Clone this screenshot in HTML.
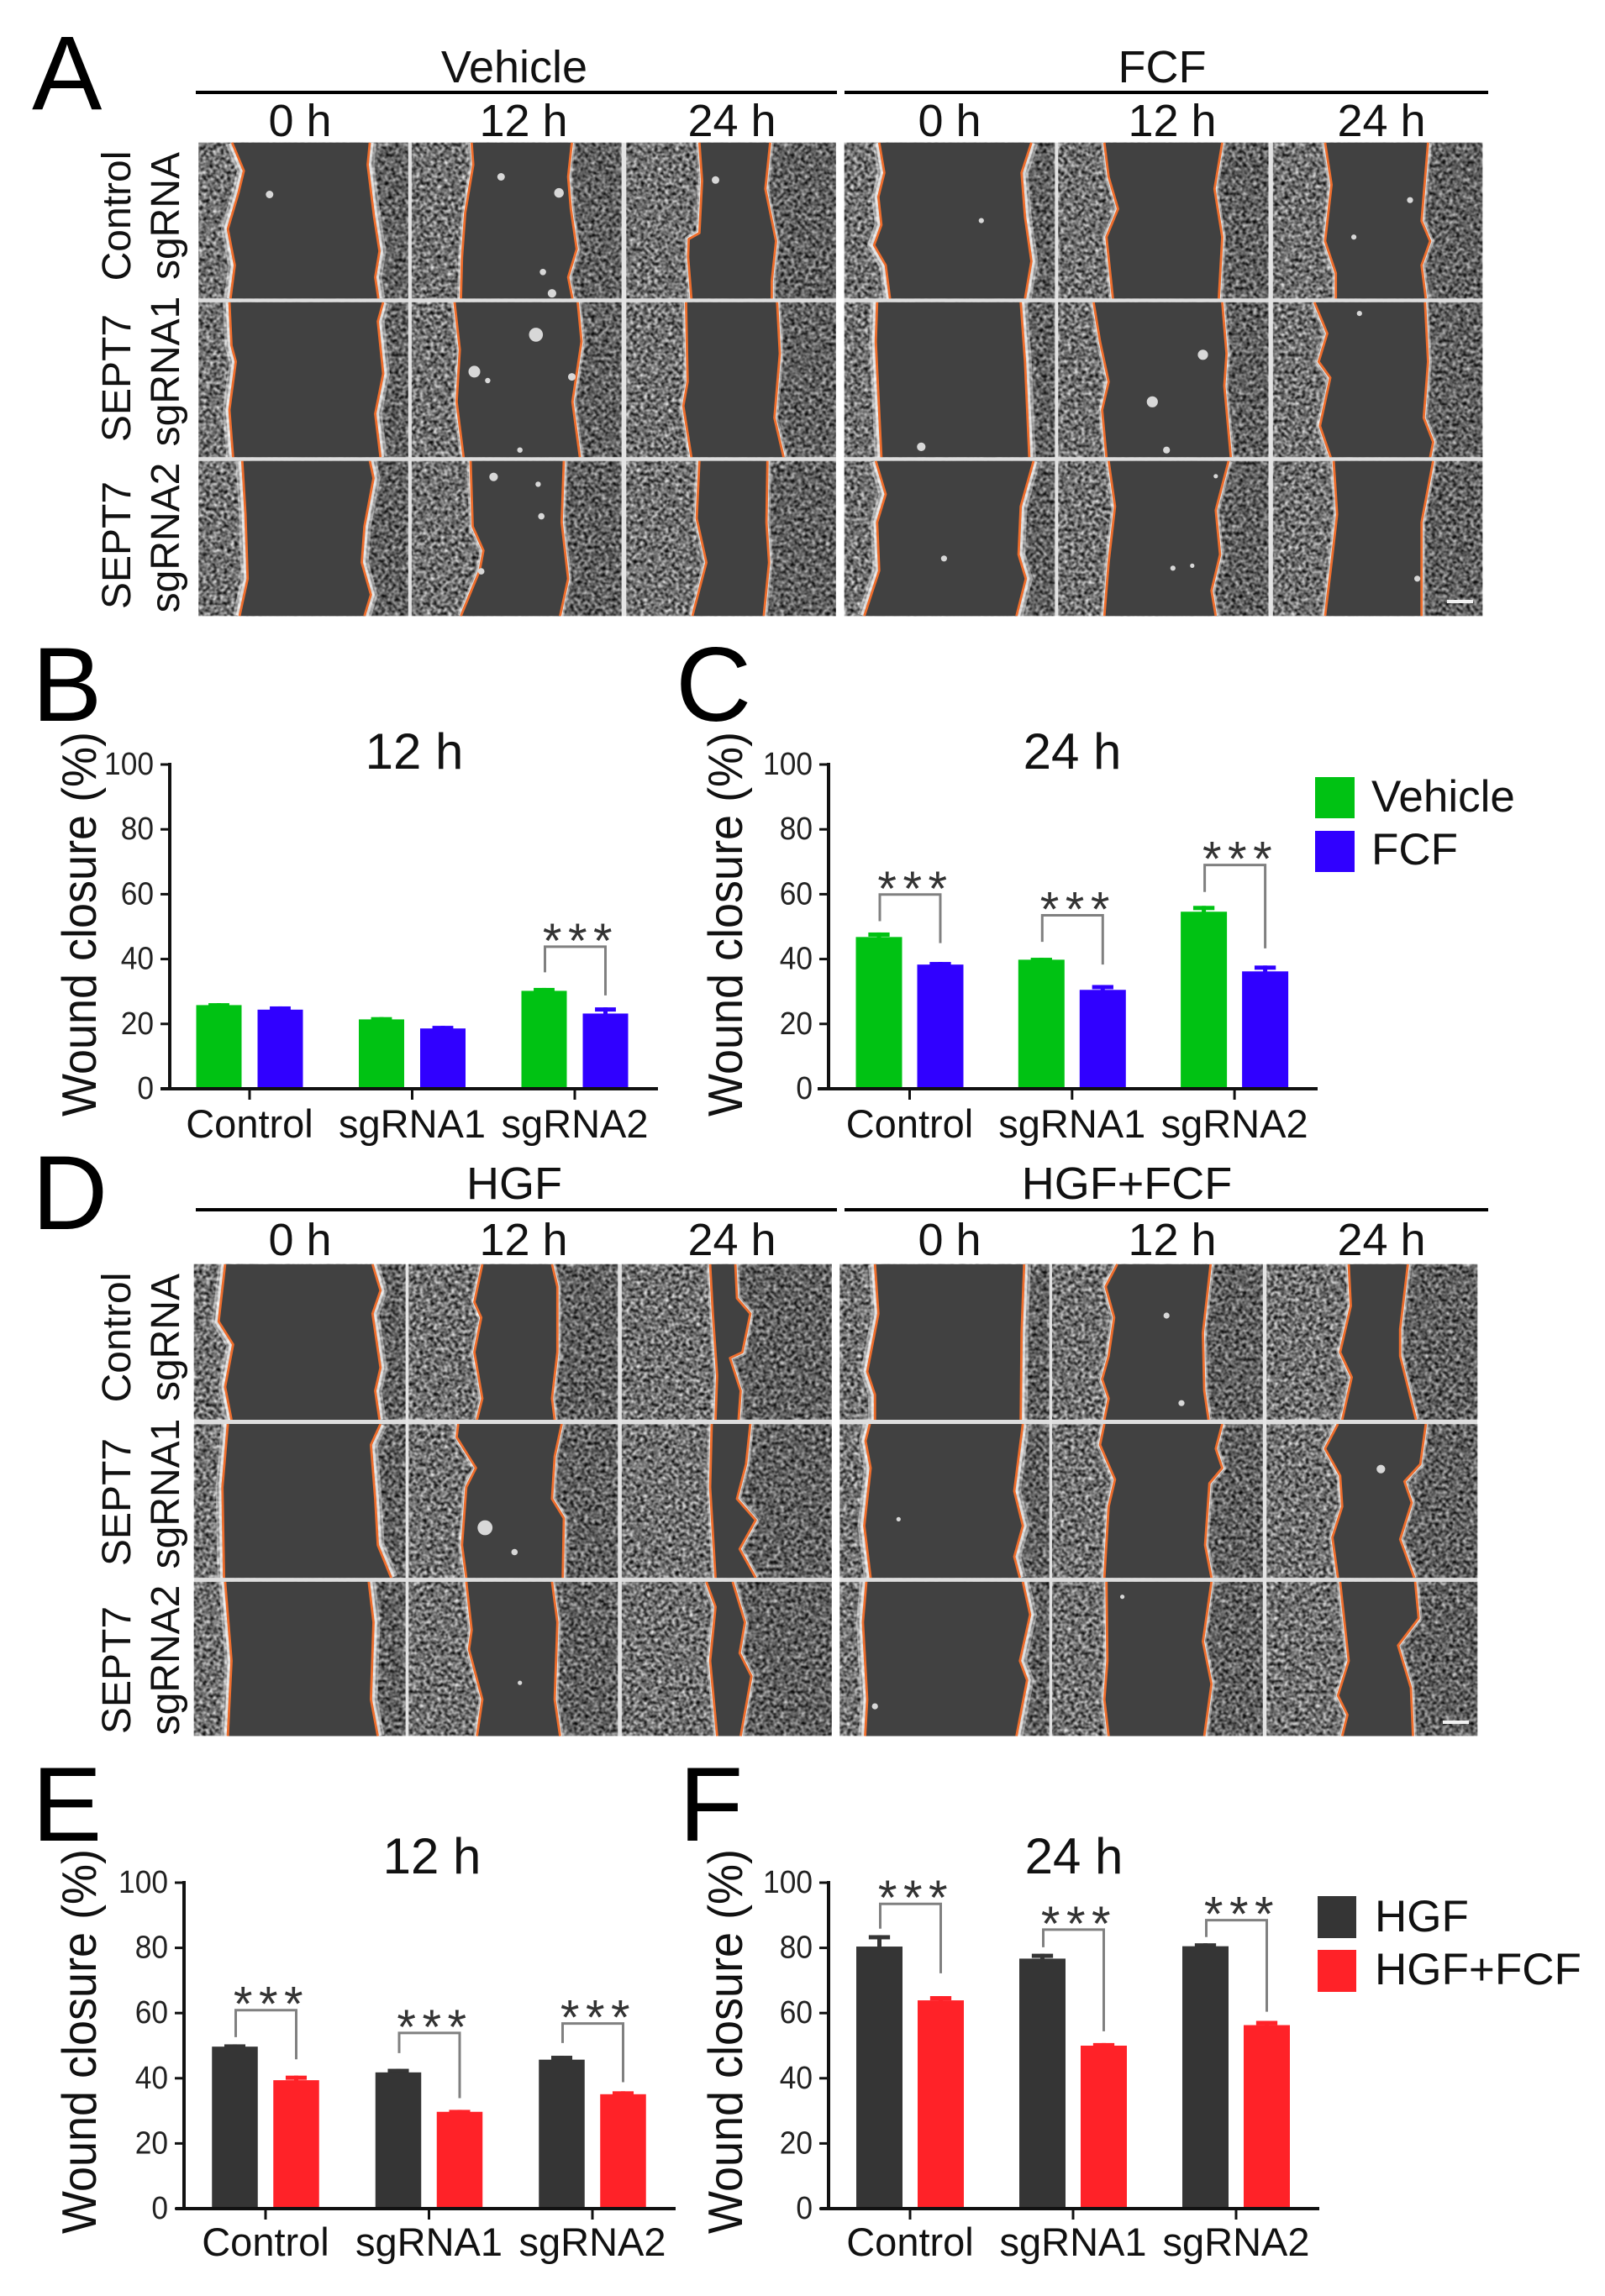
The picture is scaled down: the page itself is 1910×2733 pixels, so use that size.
<!DOCTYPE html>
<html lang="en">
<head>
<meta charset="utf-8">
<title>Wound closure figure</title>
<style>
html,body{margin:0;padding:0;background:#fff;}
body{width:1910px;height:2733px;overflow:hidden;}
svg{display:block;position:absolute;left:0;top:0;}
text{font-family:"Liberation Sans",sans-serif;fill:#111;}
.letter{font-size:125px;fill:#000;}
.hdr{font-size:54px;text-anchor:middle;}
.row{font-size:48px;text-anchor:middle;}
.leg{font-size:53px;}
</style>
</head>
<body>
<svg id="fig" xmlns="http://www.w3.org/2000/svg" width="1910" height="2733" viewBox="0 0 1910 2733">
<defs>
<filter id="cells" x="0" y="0" width="100%" height="100%" color-interpolation-filters="sRGB">
<feTurbulence type="fractalNoise" baseFrequency=".24" numOctaves="3" seed="7"/>
<feColorMatrix type="matrix" values="1.6 0 0 0 -.36  1.6 0 0 0 -.36  1.6 0 0 0 -.36  0 0 0 0 1"/>
<feGaussianBlur stdDeviation=".9"/>
</filter>
</defs>
<rect width="1910" height="2733" fill="#fff"/>

<text class="letter" x="38" y="130">A</text>
<text class="letter" x="38" y="858">B</text>
<text class="letter" x="804" y="858">C</text>
<text class="letter" x="38" y="1463">D</text>
<text class="letter" x="38" y="2191">E</text>
<text class="letter" x="808" y="2191">F</text>

<text class="hdr" x="612" y="98">Vehicle</text>
<text class="hdr" x="1383" y="98">FCF</text>
<rect x="233" y="108" width="763" height="4" fill="#000"/>
<rect x="1005" y="108" width="766" height="4" fill="#000"/>
<text class="hdr" x="357" y="162">0 h</text>
<text class="hdr" x="623" y="162">12 h</text>
<text class="hdr" x="871" y="162">24 h</text>
<text class="hdr" x="1130" y="162">0 h</text>
<text class="hdr" x="1395" y="162">12 h</text>
<text class="hdr" x="1644" y="162">24 h</text>

<text class="row" transform="translate(155 257) rotate(-90)">Control</text>
<text class="row" transform="translate(213 257) rotate(-90)">sgRNA</text>
<text class="row" transform="translate(155 450) rotate(-90)">SEPT7</text>
<text class="row" transform="translate(213 442) rotate(-90)">sgRNA1</text>
<text class="row" transform="translate(155 649) rotate(-90)">SEPT7</text>
<text class="row" transform="translate(213 640) rotate(-90)">sgRNA2</text>

<text class="hdr" x="612" y="1427">HGF</text>
<text class="hdr" x="1341" y="1427">HGF+FCF</text>
<rect x="233" y="1438" width="763" height="4" fill="#000"/>
<rect x="1005" y="1438" width="766" height="4" fill="#000"/>
<text class="hdr" x="357" y="1494">0 h</text>
<text class="hdr" x="623" y="1494">12 h</text>
<text class="hdr" x="871" y="1494">24 h</text>
<text class="hdr" x="1130" y="1494">0 h</text>
<text class="hdr" x="1395" y="1494">12 h</text>
<text class="hdr" x="1644" y="1494">24 h</text>

<text class="row" transform="translate(155 1592) rotate(-90)">Control</text>
<text class="row" transform="translate(213 1592) rotate(-90)">sgRNA</text>
<text class="row" transform="translate(155 1788) rotate(-90)">SEPT7</text>
<text class="row" transform="translate(213 1778) rotate(-90)">sgRNA1</text>
<text class="row" transform="translate(155 1988) rotate(-90)">SEPT7</text>
<text class="row" transform="translate(213 1976) rotate(-90)">sgRNA2</text>

<g id="micro"></g>
<g id="charts"></g>

<rect x="1565" y="925" width="47" height="49" fill="#00c213"/>
<text class="leg" x="1632" y="966">Vehicle</text>
<rect x="1565" y="989" width="47" height="49" fill="#3000ff"/>
<text class="leg" x="1632" y="1029">FCF</text>
<rect x="1568" y="2257" width="46" height="50" fill="#353535"/>
<text class="leg" x="1636" y="2299">HGF</text>
<rect x="1568" y="2321" width="46" height="50" fill="#ff2228"/>
<text class="leg" x="1636" y="2362">HGF+FCF</text>
</svg>

<script>
// ---- chart data ----
const categories = ['Control', 'sgRNA1', 'sgRNA2'];
const yTicks = [0, 20, 40, 60, 80, 100];

const b12hVehicle = [25.8, 21.4, 30.2];
const b12hVehicleErr = [0.6, 0.7, 0.9];
const b12hFcf = [24.4, 18.6, 23.2];
const b12hFcfErr = [1.0, 0.8, 1.9];
const b12hBracketTop = [null, null, 43.8];
const b12hBracketLeft = [null, null, 35.9];
const b12hBracketRight = [null, null, 28.8];

const c24hVehicle = [46.8, 39.8, 54.6];
const c24hVehicleErr = [1.4, 0.6, 1.8];
const c24hFcf = [38.3, 30.5, 36.2];
const c24hFcfErr = [0.8, 1.5, 1.8];
const c24hBracketTop = [59.9, 53.5, 69.0];
const c24hBracketLeft = [51.7, 45.3, 60.7];
const c24hBracketRight = [44.9, 38.3, 43.3];

const e12hHgf = [49.7, 41.8, 45.7];
const e12hHgfErr = [0.7, 1.1, 1.2];
const e12hCombo = [39.4, 29.7, 35.1];
const e12hComboErr = [1.4, 0.6, 0.9];
const e12hBracketTop = [60.9, 53.9, 56.8];
const e12hBracketLeft = [52.6, 47.7, 50.8];
const e12hBracketRight = [45.8, 33.9, 38.8];

const f24hHgf = [80.4, 76.7, 80.5];
const f24hHgfErr = [3.5, 1.5, 0.9];
const f24hCombo = [63.9, 50.0, 56.3];
const f24hComboErr = [1.3, 0.8, 1.3];
const f24hBracketTop = [93.5, 85.6, 88.5];
const f24hBracketLeft = [85.9, 80.2, 83.3];
const f24hBracketRight = [72.2, 54.4, 60.4];

// ---- chart layouts ----
const chartLayouts = [
 {id:'b', title:'12 h', titleX:493, titleY:915, axisX:202, axisL:191, axisR:783, y100:910, y0:1296, catY:1354, tick0:297, tickStep:193.5, off:36.5, barW:54, yTitleX:114, yTitleY:1100,
  s1:b12hVehicle, e1:b12hVehicleErr, s2:b12hFcf, e2:b12hFcfErr, bt:b12hBracketTop, bl:b12hBracketLeft, br:b12hBracketRight, c1:'#00c213', c2:'#3000ff'},
 {id:'c', title:'24 h', titleX:1276, titleY:915, axisX:986, axisL:973, axisR:1568, y100:910, y0:1296, catY:1354, tick0:1082.5, tickStep:193.3, off:36.5, barW:55, yTitleX:883, yTitleY:1100,
  s1:c24hVehicle, e1:c24hVehicleErr, s2:c24hFcf, e2:c24hFcfErr, bt:c24hBracketTop, bl:c24hBracketLeft, br:c24hBracketRight, c1:'#00c213', c2:'#3000ff'},
 {id:'e', title:'12 h', titleX:514, titleY:2230, axisX:219, axisL:209, axisR:804, y100:2241, y0:2629, catY:2685, tick0:316, tickStep:194.5, off:36.5, barW:54.5, yTitleX:114, yTitleY:2430,
  s1:e12hHgf, e1:e12hHgfErr, s2:e12hCombo, e2:e12hComboErr, bt:e12hBracketTop, bl:e12hBracketLeft, br:e12hBracketRight, c1:'#353535', c2:'#ff2228'},
 {id:'f', title:'24 h', titleX:1278, titleY:2230, axisX:986, axisL:976, axisR:1570, y100:2241, y0:2629, catY:2685, tick0:1083, tickStep:194, off:36.5, barW:55, yTitleX:883, yTitleY:2430,
  s1:f24hHgf, e1:f24hHgfErr, s2:f24hCombo, e2:f24hComboErr, bt:f24hBracketTop, bl:f24hBracketLeft, br:f24hBracketRight, c1:'#353535', c2:'#ff2228'}
];

// ---- micrographs (traced wound edges, crop-space coordinates) ----
const micrographs = [
 {name:'vehicle', ox:0, oy:0, sx:.6378, sy:.4783,
  cols:[[370,762],[768,1160],[1168,1560]], rows:[[355,743],[752,1138],[1147,1533]],
  edges:[
   [[[433,355],[455,425],[445,480],[425,570],[438,660],[430,743]],[[690,355],[686,410],[698,540],[708,625],[700,690],[706,743]]],
   [[[880,355],[883,410],[868,530],[862,640],[860,743]],[[1067,355],[1060,440],[1065,520],[1076,620],[1060,690],[1068,743]]],
   [[[1305,355],[1310,450],[1305,580],[1285,595],[1284,640],[1290,743]],[[1437,355],[1428,470],[1448,600],[1440,700],[1440,743]]],
   [[[428,752],[432,860],[440,900],[428,1020],[435,1138]],[[715,752],[705,800],[715,930],[700,1030],[710,1138]]],
   [[[848,752],[858,870],[852,1000],[865,1138]],[[1078,752],[1085,850],[1068,1000],[1082,1138]]],
   [[[1280,752],[1283,950],[1275,1010],[1290,1138]],[[1450,752],[1455,880],[1445,1040],[1462,1138]]],
   [[[452,1147],[458,1280],[462,1440],[447,1533]],[[690,1147],[697,1190],[680,1310],[675,1400],[692,1480],[680,1533]]],
   [[[878,1147],[882,1310],[902,1370],[895,1420],[860,1533]],[[1052,1147],[1048,1300],[1060,1440],[1045,1533]]],
   [[[1305,1147],[1300,1290],[1318,1400],[1292,1533]],[[1432,1147],[1430,1300],[1435,1400],[1425,1533]]]
  ],
  specks:[[503,484,7],[935,440,7],[1043,480,9],[1013,677,6],[1030,730,8],[1335,448,7],[1000,833,13],[885,925,11],[910,947,5],[1067,938,7],[970,1120,5],[921,1187,8],[1004,1205,5],[1010,1285,6],[898,1422,6]]},
 {name:'fcf', ox:980, oy:0, sx:.5102, sy:.4783,
  cols:[[48,540],[547,1038],[1048,1537]], rows:[[355,743],[752,1138],[1147,1533]],
  edges:[
   [[[130,355],[142,430],[128,490],[135,560],[118,610],[145,660],[155,743]],[[485,355],[462,430],[470,540],[485,650],[470,743]]],
   [[[655,355],[665,440],[687,520],[660,590],[675,743]],[[930,355],[912,470],[930,590],[922,743]]],
   [[[1170,355],[1185,460],[1170,600],[1195,680],[1195,743]],[[1410,355],[1395,550],[1415,600],[1395,660],[1405,743]]],
   [[[125,752],[122,850],[135,1138]],[[460,752],[470,900],[480,1138]]],
   [[[630,752],[645,850],[665,950],[650,1020],[660,1138]],[[930,752],[940,880],[935,960],[950,1138]]],
   [[[1145,752],[1175,830],[1155,900],[1182,940],[1158,1060],[1183,1138]],[[1403,752],[1410,900],[1400,1040],[1422,1100],[1415,1138]]],
   [[[122,1147],[145,1230],[125,1300],[130,1420],[95,1533]],[[490,1147],[460,1260],[455,1380],[472,1440],[450,1533]]],
   [[[665,1147],[680,1260],[665,1400],[655,1533]],[[945,1147],[915,1270],[925,1380],[905,1470],[915,1533]]],
   [[[1190,1147],[1198,1280],[1185,1400],[1170,1533]],[[1422,1147],[1395,1300],[1395,1533]]]
  ],
  specks:[[368,549,6],[1368,498,7],[1237,590,6],[885,883,12],[767,1000,13],[800,1120,8],[228,1112,10],[1250,780,6],[281,1390,7],[815,1414,6],[860,1408,5],[915,1185,5],[1385,1440,7]]},
 {name:'hgf', ox:0, oy:1380, sx:.6378, sy:.4592,
  cols:[[362,757],[762,1153],[1160,1552]], rows:[[272,675],[686,1085],[1095,1495]],
  edges:[
   [[[420,272],[408,420],[435,480],[420,590],[432,675]],[[695,272],[710,340],[695,400],[710,540],[700,600],[708,675]]],
   [[[900,272],[885,370],[898,410],[885,500],[900,620],[890,675]],[[1030,272],[1040,330],[1040,500],[1030,620],[1035,675]]],
   [[[1325,272],[1330,400],[1338,560],[1335,675]],[[1372,272],[1375,360],[1400,400],[1385,500],[1362,515],[1382,600],[1378,675]]],
   [[[425,686],[415,850],[418,1085]],[[710,686],[692,740],[700,880],[705,1000],[730,1085]]],
   [[[855,686],[852,720],[888,800],[870,850],[862,1000],[870,1085]],[[1048,686],[1035,770],[1030,880],[1052,930],[1050,1085]]],
   [[[1328,686],[1325,850],[1335,1085]],[[1400,686],[1392,790],[1375,880],[1410,935],[1380,1010],[1410,1085]]],
   [[[420,1095],[432,1300],[425,1495]],[[688,1095],[697,1200],[692,1400],[705,1495]]],
   [[[870,1095],[880,1220],[875,1270],[900,1400],[890,1495]],[[1030,1095],[1040,1200],[1035,1400],[1045,1495]]],
   [[[1318,1095],[1335,1160],[1325,1300],[1338,1495]],[[1367,1095],[1390,1200],[1380,1280],[1402,1340],[1382,1495]]]
  ],
  specks:[[905,955,14],[960,1018,6],[970,1357,4]]},
 {name:'hgf-fcf', ox:980, oy:1380, sx:.5102, sy:.4592,
  cols:[[38,527],[533,1025],[1033,1525]], rows:[[272,675],[686,1085],[1095,1495]],
  edges:[
   [[[120,272],[128,400],[102,550],[120,610],[120,675]],[[468,272],[462,450],[460,675]]],
   [[[685,272],[658,330],[678,410],[665,510],[650,570],[665,620],[655,675]],[[903,272],[885,450],[888,600],[898,675]]],
   [[[1225,272],[1230,380],[1205,500],[1232,565],[1210,675]],[[1363,272],[1345,440],[1345,510],[1382,675]]],
   [[[108,686],[98,730],[110,800],[95,950],[110,1085]],[[465,686],[445,860],[465,950],[445,1030],[458,1085]]],
   [[[655,686],[645,740],[680,830],[665,900],[655,1085]],[[930,686],[915,750],[930,800],[900,840],[890,1000],[905,1085]]],
   [[[1200,686],[1170,750],[1205,820],[1210,900],[1187,980],[1200,1085]],[[1405,686],[1392,790],[1355,835],[1372,890],[1345,985],[1378,1085]]],
   [[[100,1095],[92,1200],[102,1400],[97,1495]],[[465,1095],[482,1180],[458,1300],[475,1350],[450,1495]]],
   [[[660,1095],[662,1300],[655,1400],[665,1495]],[[905,1095],[885,1250],[905,1360],[888,1495]]],
   [[[1205,1095],[1225,1300],[1200,1390],[1222,1440],[1210,1495]],[[1380,1095],[1388,1190],[1340,1260],[1370,1370],[1375,1495]]]
  ],
  specks:[[800,405,7],[835,632,7],[175,933,5],[1300,803,10],[697,1134,5],[120,1418,7]]}
];

const NS = 'http://www.w3.org/2000/svg';
function make(parent, tag, attrs, txt) {
  const el = document.createElementNS(NS, tag);
  for (const k in attrs) el.setAttribute(k, attrs[k]);
  if (txt !== undefined) el.textContent = txt;
  parent.appendChild(el);
  return el;
}

// ---- draw micrographs ----
const microRoot = document.getElementById('micro');
micrographs.forEach(function (m) {
  const px = function (x) { return +(m.ox + x * m.sx).toFixed(1); };
  const py = function (y) { return +(m.oy + y * m.sy).toFixed(1); };
  const pts = function (a) { return a.map(function (p) { return px(p[0]) + ',' + py(p[1]); }).join(' '); };
  m.rows.forEach(function (r, ri) {
    m.cols.forEach(function (c, ci) {
      const tile = make(microRoot, 'g', {});
      
      
      const noise = make(tile, 'rect', {x: px(c[0]), y: py(r[0]), width: px(c[1]) - px(c[0]), height: py(r[1]) - py(r[0]), filter: 'url(#cells)'});
      
      
      const e = m.edges[ri * 3 + ci];
      const rightShade = make(tile, 'polygon', {points: pts([[c[1], r[0]]].concat(e[1], [[c[1], r[1]]])), fill: '#000', opacity: .14});
      
      
      const wide = ci === 0 ? 16 : 9;
      [0, 1].forEach(function (side) {
        const halo = make(tile, 'polyline', {points: pts(e[side]), fill: 'none', stroke: '#fff', 'stroke-width': wide, opacity: .4});
        
        
        const core = make(tile, 'polyline', {points: pts(e[side]), fill: 'none', stroke: '#fff', 'stroke-width': wide * .55, opacity: .65});
        
        
      });
      const gap = make(tile, 'polygon', {points: pts(e[0].concat(e[1].slice().reverse())), fill: '#414141'});
      
      
      const left = make(tile, 'polyline', {points: pts(e[0]), fill: 'none', stroke: '#ee6d2c', 'stroke-width': 2.8, 'stroke-linejoin': 'round'});
      
      
      const right = make(tile, 'polyline', {points: pts(e[1]), fill: 'none', stroke: '#ee6d2c', 'stroke-width': 2.8, 'stroke-linejoin': 'round'});
      
      
    });
  });
  m.specks.forEach(function (s) {
    const dot = make(microRoot, 'ellipse', {cx: px(s[0]), cy: py(s[1]), rx: +(s[2] * m.sx).toFixed(1), ry: +(s[2] * m.sx).toFixed(1), fill: '#d8d8d8'});
    
    
  });
  // light grey gutters between rows and columns
  for (let i = 0; i < 2; i++) {
    const h = make(microRoot, 'rect', {x: px(m.cols[0][0]), y: py(m.rows[i][1]), width: px(m.cols[2][1]) - px(m.cols[0][0]), height: py(m.rows[i + 1][0]) - py(m.rows[i][1]), fill: '#dedede'});
    
    
    const v = make(microRoot, 'rect', {x: px(m.cols[i][1]), y: py(m.rows[0][0]), width: px(m.cols[i + 1][0]) - px(m.cols[i][1]), height: py(m.rows[2][1]) - py(m.rows[0][0]), fill: '#e4e4e4'});
    
    
  }
});
const scaleA = make(microRoot, 'rect', {x: 1722, y: 714, width: 31, height: 4, fill: '#f2f2f2'});


const scaleD = make(microRoot, 'rect', {x: 1717, y: 2048, width: 31, height: 4, fill: '#f2f2f2'});



// ---- draw bar charts ----
const chartsRoot = document.getElementById('charts');
chartLayouts.forEach(function (c) {
  const g = make(chartsRoot, 'g', {});
  
  
  const yScale = function (v) { return c.y0 - (c.y0 - c.y100) * v / 100; };
  const xBand = function (i) { return c.tick0 + i * c.tickStep; };

  const title = make(g, 'text', {x: c.titleX, y: c.titleY, 'font-size': 60, 'text-anchor': 'middle'}, c.title);
  
  

  const yTitle = make(g, 'text', {transform: 'translate(' + c.yTitleX + ' ' + c.yTitleY + ') rotate(-90) scale(1,1.06)', 'font-size': 54, 'text-anchor': 'middle'}, 'Wound closure (%)');
  
  

  const drawBar = function (i, sign, val, err, color, series) {
    const cx = xBand(i) + sign * c.off;
    const top = yScale(val);
    const errTop = yScale(val + err);
    const stem = make(g, 'rect', {x: cx - 2.5, y: errTop, width: 5, height: top - errTop + 1, fill: color});
    
    
    const cap = make(g, 'rect', {x: cx - c.barW * .23, y: errTop, width: c.barW * .46, height: 5, fill: color});
    
    
    const bar = make(g, 'rect', {x: cx - c.barW / 2, y: top, width: c.barW, height: c.y0 - top, fill: color});
    
    
  };

  categories.forEach(function (cat, i) {
    drawBar(i, -1, c.s1[i], c.e1[i], c.c1, 's1');
    drawBar(i, 1, c.s2[i], c.e2[i], c.c2, 's2');

    if (c.bt[i] !== null) {
      const lx = xBand(i) - c.off + 1;
      const rx = xBand(i) + c.off;
      const t = yScale(c.bt[i]);
      const br = make(g, 'polyline', {points: lx + ',' + yScale(c.bl[i]) + ' ' + lx + ',' + t + ' ' + rx + ',' + t + ' ' + rx + ',' + yScale(c.br[i]), fill: 'none', stroke: '#808080', 'stroke-width': 3});
      
      
      const stars = make(g, 'text', {x: xBand(i) + 7, y: t + 13, 'font-size': 58, 'letter-spacing': 7.5, 'text-anchor': 'middle', style: 'fill:#333'}, '***');
      
      
    }

    const tick = make(g, 'rect', {x: xBand(i) - 1.5, y: c.y0, width: 3, height: 13, fill: '#111'});
    
    
    const lab = make(g, 'text', {x: xBand(i), y: c.catY, 'font-size': 47, 'text-anchor': 'middle'}, cat);
    
    
  });

  const yAxis = make(g, 'rect', {x: c.axisX - 2, y: c.y100 - 2, width: 4, height: c.y0 - c.y100 + 4, fill: '#111'});
  
  
  const xAxis = make(g, 'rect', {x: c.axisL, y: c.y0 - 2, width: c.axisR - c.axisL, height: 4, fill: '#111'});
  
  

  yTicks.forEach(function (t) {
    const y = yScale(t);
    const tk = make(g, 'rect', {x: c.axisX - 11, y: y - 1.5, width: 10, height: 3, fill: '#111'});
    
    
    const tl = make(g, 'text', {transform: 'translate(' + (c.axisX - 19) + ' ' + (y + 12) + ') scale(.93,1)', 'font-size': 38, 'text-anchor': 'end', style: 'fill:#222'}, String(t));
    
    
  });
});
</script>
</body>
</html>
